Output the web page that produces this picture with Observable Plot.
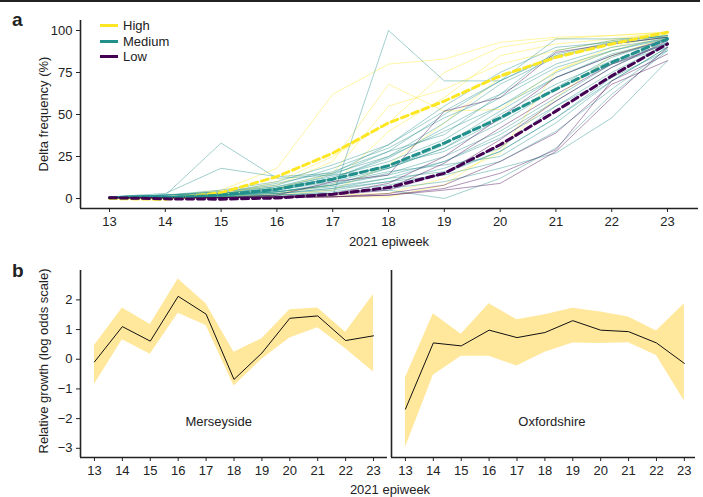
<!DOCTYPE html>
<html>
<head>
<meta charset="utf-8">
<script src="https://cdn.jsdelivr.net/npm/d3@7"></script>
<script src="https://cdn.jsdelivr.net/npm/@observablehq/plot@0.6"></script>
<style>
  html, body { margin: 0; padding: 0; background: #fff; }
  #chart { position: relative; width: 703px; height: 497px; font-family: "Liberation Sans", Arial, Helvetica, sans-serif; color: #222; overflow: hidden; }
  .plot { position: absolute; }
  .ctext { position: absolute; transform: translate(-50%, -50%); white-space: nowrap; font-size: 13px; }
  .rot { position: absolute; transform: translate(-50%, -50%) rotate(-90deg); white-space: nowrap; font-size: 13px; }
  .letter { position: absolute; font-weight: 900; font-size: 19px; }
  .leg { position: absolute; font-size: 13px; display: flex; align-items: center; }
  .sw { width: 18px; height: 3px; margin-right: 5px; }
</style>
</head>
<body>
<div id="chart"></div>
<script>
// ---------- data ----------
const weeks = [13, 14, 15, 16, 17, 18, 19, 20, 21, 22, 23];
const groups = ["High", "Medium", "Low"];
const groupColors = ["#fde725", "#21908c", "#440154"];

// individual area trajectories (Delta frequency %, weeks 13..23)
const highLines = [
  [0, 1, 5, 18, 62, 80, 83, 93, 96, 97, 99],
  [0, 0.5, 3, 8, 22, 68, 52, 53, 76, 90, 98],
  [0, 0.5, 2, 6, 15, 55, 65, 80, 88, 94, 99],
  [0, 0, 1, 3, 8, 40, 60, 85, 92, 95, 99],
  [0, 0, 0.5, 1, 2, 3, 12, 27, 76, 88, 97],
  [0, 0, 0.5, 1, 1, 1, 8, 30, 60, 85, 96],
  [0, 0, 1, 2, 5, 20, 45, 72, 85, 93, 98],
  [0, 0.5, 2, 10, 25, 45, 75, 90, 95, 97, 99]
];
const mediumLines = [
  [1, 2, 33, 12, 14, 18, 30, 47, 66, 84, 95],
  [1, 3, 18, 13, 15, 25, 40, 55, 75, 88, 96],
  [0.5, 1, 1.5, 1, 1.5, 100, 70, 70, 95, 95, 96],
  [1, 2, 5, 10, 20, 32, 55, 75, 90, 93, 97],
  [1, 2, 4, 8, 18, 30, 48, 62, 80, 90, 95],
  [0.5, 1, 3, 7, 13, 22, 35, 55, 72, 85, 94],
  [0.5, 1, 2, 5, 10, 18, 30, 50, 68, 82, 92],
  [0.5, 1, 3, 6, 12, 24, 42, 60, 78, 88, 95],
  [0.5, 1, 2, 4, 8, 15, 25, 40, 60, 80, 93],
  [0.5, 1, 2, 4, 9, 16, 20, 25, 45, 70, 90],
  [1, 2, 3, 6, 14, 28, 50, 70, 85, 92, 96],
  [0.5, 1, 2, 3, 5, 10, 18, 30, 55, 75, 92],
  [0.5, 1, 1, 2, 4, 8, 15, 28, 48, 70, 90],
  [0.5, 1, 1.5, 3, 6, 12, 22, 38, 58, 78, 93],
  [1, 2, 4, 9, 16, 28, 38, 62, 88, 94, 97],
  [0.5, 1, 2, 5, 11, 20, 28, 45, 65, 80, 90],
  [0.5, 0.5, 1, 2, 3, 5, 0, 12, 30, 62, 88],
  [0.5, 1, 1, 2, 3, 6, 10, 18, 27, 48, 82],
  [1, 1, 2, 4, 8, 14, 22, 36, 55, 72, 88],
  [0.5, 1, 2, 4, 7, 12, 16, 28, 48, 72, 93],
  [1, 2, 3, 6, 12, 25, 45, 68, 84, 92, 96],
  [0.5, 1, 2, 3, 6, 10, 14, 22, 40, 65, 89],
  [1, 2, 4, 7, 15, 32, 52, 70, 86, 93, 97],
  [0.5, 1, 2, 4, 8, 18, 32, 52, 72, 86, 94]
];
const lowLines = [
  [0.5, 0.5, 0.5, 2, 10, 14, 52, 60, 87, 92, 96],
  [0.5, 0.5, 0.5, 1, 3, 6, 21, 42, 62, 80, 92],
  [0.5, 0.5, 0.5, 0.5, 1, 3, 8, 22, 39, 68, 82],
  [0.5, 0.5, 0.5, 0.5, 1, 2, 6, 15, 29, 70, 86],
  [0.5, 0.5, 0.5, 1, 1, 2, 5, 9, 28, 60, 90],
  [0.5, 0.5, 0.5, 1, 2, 5, 15, 35, 58, 78, 94],
  [0.5, 0.5, 0.5, 1, 3, 9, 25, 48, 72, 85, 95]
];
// group mean trajectories (dashed)
const highMean = [0, -0.5, 3.5, 13, 27, 45, 58, 73, 84, 92, 99];
const mediumMean = [0.5, 0.5, 2, 5.5, 11.5, 19.5, 33, 48, 65, 81, 95];
const lowMean = [0.5, -0.2, -0.4, 0.3, 2.5, 6.5, 15, 32, 52, 73, 92];

// panel b: relative growth (log odds scale)
const merseyMid = [-0.09, 1.1, 0.61, 2.12, 1.52, -0.68, 0.21, 1.38, 1.46, 0.63, 0.79];
const merseyLo = [-0.85, 0.66, 0.17, 1.55, 1.14, -0.9, 0.0, 0.72, 1.06, 0.35, -0.43];
const merseyHi = [0.46, 1.73, 1.17, 2.7, 1.87, 0.24, 0.69, 1.67, 1.73, 0.91, 2.18];
const oxfordMid = [-1.68, 0.55, 0.45, 0.98, 0.73, 0.9, 1.3, 0.98, 0.93, 0.55, -0.14];
const oxfordLo = [-2.97, -0.54, 0.1, 0.1, -0.23, 0.24, 0.55, 0.53, 0.56, 0.13, -1.41];
const oxfordHi = [-0.62, 1.53, 0.84, 1.87, 1.33, 1.5, 1.72, 1.59, 1.42, 0.95, 1.87];
const regionNames = ["Merseyside", "Oxfordshire"];

// ---------- build tables ----------
const thin = [];
[[highLines, "High"], [mediumLines, "Medium"], [lowLines, "Low"]].forEach(([arr, g]) => {
  arr.forEach((vals, i) => vals.forEach((v, j) => thin.push({id: g + i, group: g, week: weeks[j], value: v})));
});
const means = [];
[[highMean, "High"], [mediumMean, "Medium"], [lowMean, "Low"]].forEach(([vals, g]) => {
  vals.forEach((v, j) => means.push({group: g, week: weeks[j], value: v}));
});
const mersey = weeks.map((w, i) => ({week: w, mid: merseyMid[i], lo: merseyLo[i], hi: merseyHi[i]}));
const oxford = weeks.map((w, i) => ({week: w, mid: oxfordMid[i], lo: oxfordLo[i], hi: oxfordHi[i]}));

const axisColor = "#222";
const style = {fontFamily: "'Liberation Sans', Arial, Helvetica, sans-serif", fontSize: "13px", color: axisColor, background: "transparent", overflow: "visible"};
const chart = document.getElementById("chart");

// ---------- panel a ----------
const xA = [12.48, 23.555];
const yA = [-5.95, 105.95];
const plotA = Plot.plot({
  width: 703, height: 245,
  marginLeft: 80, marginRight: 5, marginTop: 20, marginBottom: 37,
  style,
  x: {domain: xA, ticks: weeks, tickFormat: d => String(d), label: null, tickSize: 4, tickPadding: 4},
  y: {domain: yA, ticks: [0, 25, 50, 75, 100], label: null, tickSize: 4, tickPadding: 4},
  color: {domain: groups, range: groupColors},
  marks: [
    Plot.line(thin, {x: "week", y: "value", z: "id", stroke: "group", strokeOpacity: 0.42, strokeWidth: 1}),
    Plot.line(means, {x: "week", y: "value", z: "group", stroke: "group", strokeWidth: 3, strokeDasharray: "7,4"}),
    Plot.ruleX([xA[0]], {stroke: axisColor, strokeWidth: 1.6}),
    Plot.ruleY([yA[0]], {stroke: axisColor, strokeWidth: 1.6})
  ]
});
plotA.classList.add("plot");
plotA.style.left = "0px"; plotA.style.top = "0px";
chart.appendChild(plotA);

// ---------- panel b ----------
const xB = [12.5, 23.5];
const yB = [-3.31, 2.99];
function panelB(data, name, opts) {
  const p = Plot.plot({
    width: opts.width, height: 252,
    marginLeft: opts.marginLeft, marginRight: opts.marginRight, marginTop: 25, marginBottom: 40,
    style,
    x: {domain: opts.xdomain, ticks: weeks, tickFormat: d => String(d), label: null, tickSize: 4, tickPadding: 4},
    y: {domain: yB, ticks: opts.showY ? [-3, -2, -1, 0, 1, 2] : [], label: null, tickSize: opts.showY ? 4 : 0, tickPadding: 4, tickFormat: d => (d < 0 ? "\u2212" + Math.abs(d) : String(d))},
    marks: [
      Plot.areaY(data, {x: "week", y1: "lo", y2: "hi", fill: "#ffe89c"}),
      Plot.line(data, {x: "week", y: "mid", stroke: "#111", strokeWidth: 1}),
      Plot.text([name], {x: opts.labelX, y: -2.1, text: d => d, fontSize: 13, fill: "#222"}),
      Plot.ruleX([opts.xdomain[0]], {stroke: axisColor, strokeWidth: 1.6}),
      Plot.ruleY([yB[0]], {stroke: axisColor, strokeWidth: 1.6})
    ]
  });
  p.classList.add("plot");
  p.style.left = opts.left + "px"; p.style.top = "245px";
  chart.appendChild(p);
}
panelB(mersey, regionNames[0], {width: 390, marginLeft: 80, marginRight: 3, xdomain: xB, showY: true, left: 0, labelX: 17.45});
panelB(oxford, regionNames[1], {width: 315, marginLeft: 3, marginRight: 8, xdomain: [12.5, 23.4], showY: false, left: 388, labelX: 18.25});

// ---------- html annotations ----------
function add(cls, text, x, y) {
  const d = document.createElement("div");
  d.className = cls; d.textContent = text;
  d.style.left = x + "px"; d.style.top = y + "px";
  chart.appendChild(d);
  return d;
}
const topRule = document.createElement("div");
Object.assign(topRule.style, {position: "absolute", left: "0px", top: "0px", width: "700px", height: "1.5px", background: "#222"});
chart.appendChild(topRule);

add("letter", "a", 12, 9);
add("letter", "b", 12, 260);
add("rot", "Delta frequency (%)", 43, 114);
add("ctext", "2021 epiweek", 389, 241);
add("rot", "Relative growth (log odds scale)", 43, 361);
add("ctext", "2021 epiweek", 390, 489);

groups.forEach((g, i) => {
  const d = document.createElement("div");
  d.className = "leg";
  d.style.left = "100px"; d.style.top = (18 + i * 15.5) + "px";
  const sw = document.createElement("div"); sw.className = "sw"; sw.style.background = groupColors[i];
  const t = document.createElement("span"); t.textContent = g;
  d.appendChild(sw); d.appendChild(t);
  chart.appendChild(d);
});
</script>
</body>
</html>
